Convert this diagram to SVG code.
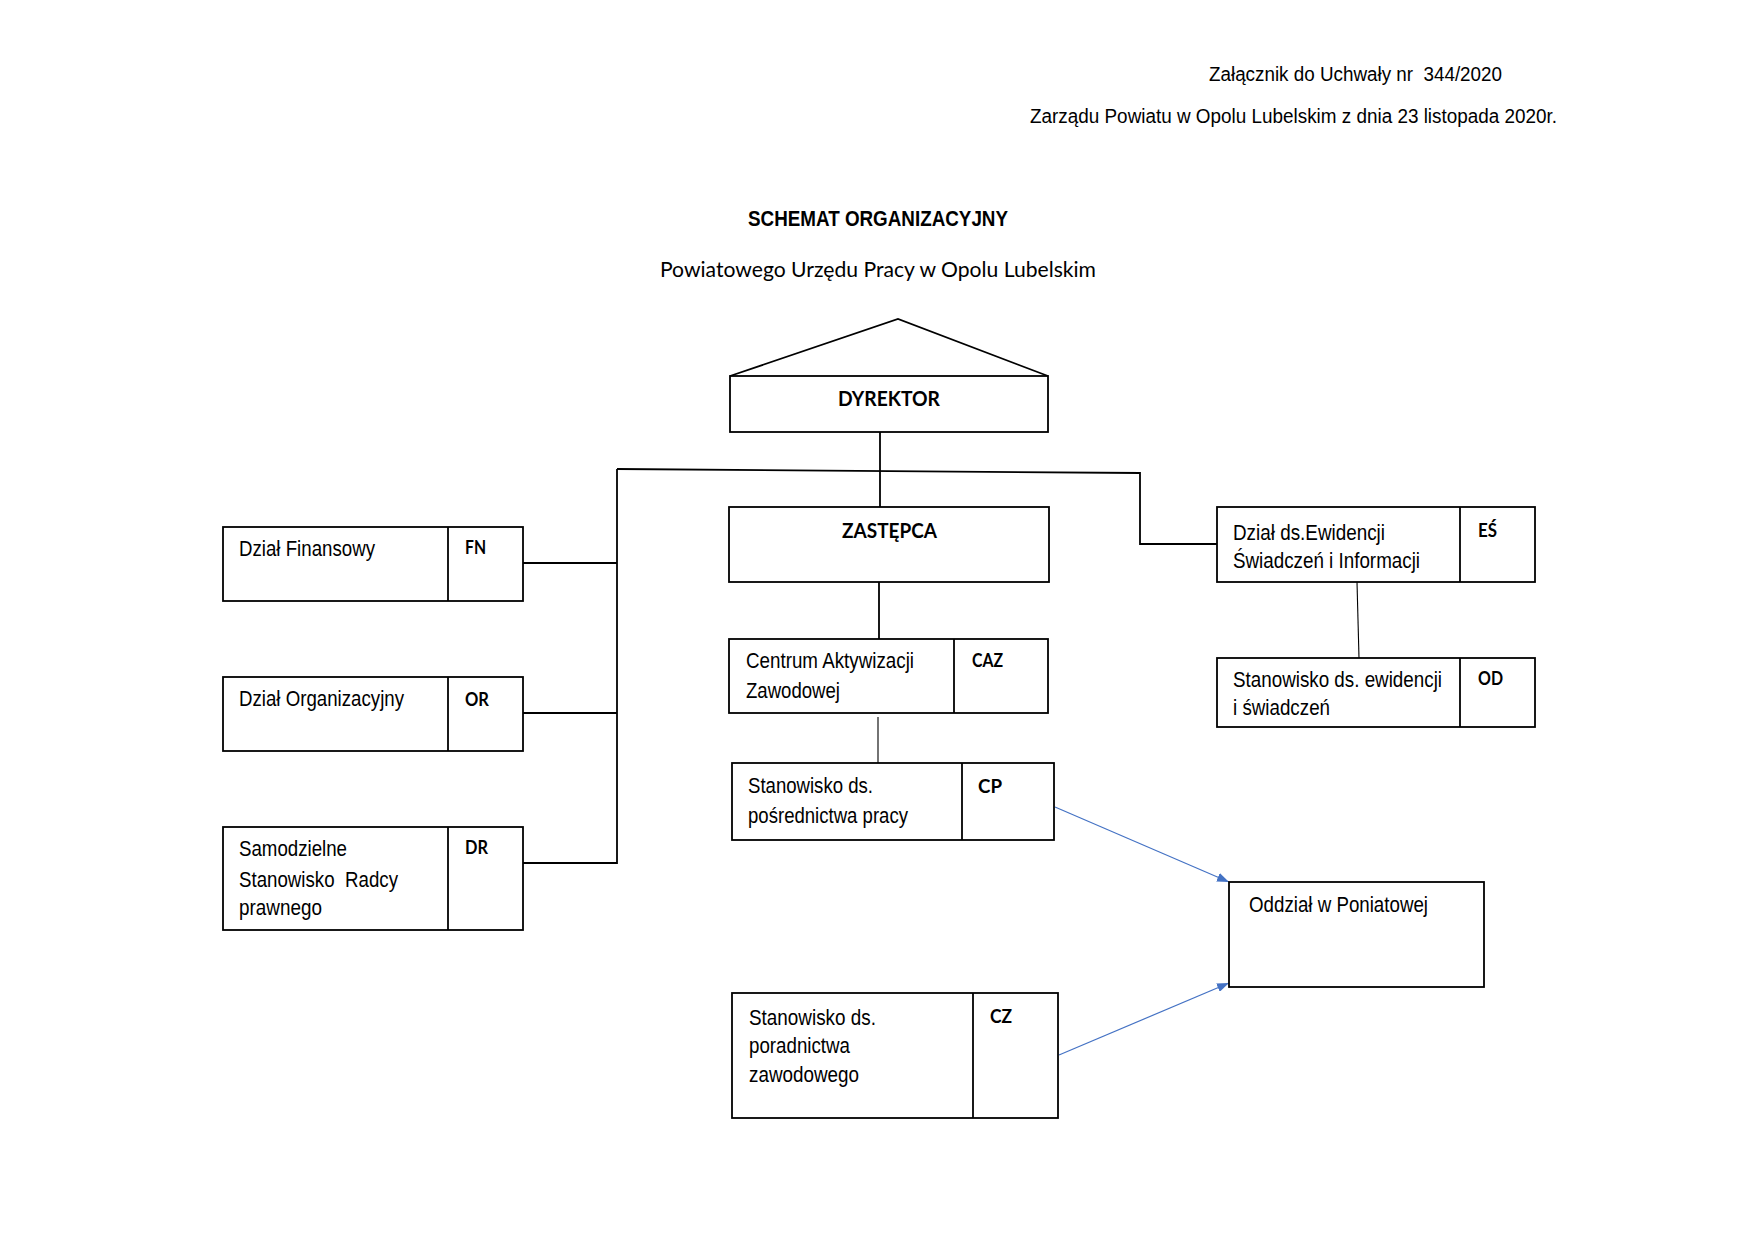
<svg xmlns="http://www.w3.org/2000/svg" width="1753" height="1240" viewBox="0 0 1753 1240">
<style>
.box{fill:#fff;stroke:#000;stroke-width:1.8}
.div{stroke:#000;stroke-width:1.8}
.ln{fill:none;stroke:#000;stroke-width:1.8}
.thin{fill:none;stroke:#000;stroke-width:1.1}
.arr{fill:none;stroke:#4472C4;stroke-width:1.2}
.lbl{font-family:"Liberation Sans",Arial,sans-serif;font-size:22px;fill:#000;white-space:pre}
.code{font-family:Lato,"Open Sans",sans-serif;font-weight:bold;font-size:18px;fill:#000}
.head{font-family:Lato,"Open Sans",sans-serif;font-weight:bold;font-size:20px;fill:#000}
.hdr{font-family:"Liberation Sans",Arial,sans-serif;font-size:20px;fill:#000;white-space:pre}
</style>
<defs>
<marker id="ah" viewBox="0 0 12 9" refX="12" refY="4.5" markerWidth="12" markerHeight="9" markerUnits="userSpaceOnUse" orient="auto">
<path d="M0,0 L12,4.5 L0,9 z" fill="#4472C4"/>
</marker>
</defs>
<rect width="1753" height="1240" fill="#fff"/>
<g id="header">
<text class="hdr" x="1209" y="81" textLength="293" lengthAdjust="spacingAndGlyphs">Załącznik do Uchwały nr  344/2020</text>
<text class="hdr" x="1030" y="123" textLength="527" lengthAdjust="spacingAndGlyphs">Zarządu Powiatu w Opolu Lubelskim z dnia 23 listopada 2020r.</text>
<text x="748" y="226" font-family="Liberation Sans,Arial,sans-serif" font-weight="bold" font-size="22" textLength="260" lengthAdjust="spacingAndGlyphs">SCHEMAT ORGANIZACYJNY</text>
<text x="660" y="277" font-family="Lato,Open Sans,sans-serif" font-size="22" textLength="436" lengthAdjust="spacingAndGlyphs">Powiatowego Urzędu Pracy w Opolu Lubelskim</text>
</g>
<g id="connectors">
<line class="ln" x1="880" y1="432" x2="880" y2="507"/>
<polyline class="ln" points="617,469 1140,473 1140,544 1217,544"/>
<line class="ln" x1="617" y1="469" x2="617" y2="864"/>
<line class="ln" x1="523" y1="563" x2="617" y2="563"/>
<line class="ln" x1="523" y1="713" x2="617" y2="713"/>
<line class="ln" x1="523" y1="863" x2="617" y2="863"/>
<line class="ln" x1="879" y1="582" x2="879" y2="639"/>
<line class="thin" x1="878" y1="717" x2="878" y2="763"/>
<line class="thin" x1="1357" y1="582" x2="1359" y2="658"/>
<line class="arr" x1="1055" y1="807" x2="1229" y2="882" marker-end="url(#ah)"/>
<line class="arr" x1="1059" y1="1055" x2="1229" y2="983" marker-end="url(#ah)"/>
</g>
<g id="dyrektor">
<polyline class="ln" points="730,376 898,319 1048,376"/>
<rect class="box" x="730" y="376" width="318" height="56"/>
<text class="head" x="838" y="406" textLength="102" lengthAdjust="spacingAndGlyphs">DYREKTOR</text>
</g>
<g id="zastepca">
<rect class="box" x="729" y="507" width="320" height="75"/>
<text class="head" x="842" y="538" textLength="95" lengthAdjust="spacingAndGlyphs">ZASTĘPCA</text>
</g>
<g id="fn">
<rect class="box" x="223" y="527" width="300" height="74"/>
<line class="div" x1="448" y1="527" x2="448" y2="601"/>
<text class="lbl" x="239" y="556" textLength="136" lengthAdjust="spacingAndGlyphs">Dział Finansowy</text>
<text class="code" x="465" y="554" textLength="21" lengthAdjust="spacingAndGlyphs">FN</text>
</g>
<g id="or">
<rect class="box" x="223" y="677" width="300" height="74"/>
<line class="div" x1="448" y1="677" x2="448" y2="751"/>
<text class="lbl" x="239" y="706" textLength="165" lengthAdjust="spacingAndGlyphs">Dział Organizacyjny</text>
<text class="code" x="465" y="706" textLength="24" lengthAdjust="spacingAndGlyphs">OR</text>
</g>
<g id="dr">
<rect class="box" x="223" y="827" width="300" height="103"/>
<line class="div" x1="448" y1="827" x2="448" y2="930"/>
<text class="lbl" x="239" y="856" textLength="108" lengthAdjust="spacingAndGlyphs">Samodzielne</text>
<text class="lbl" x="239" y="887" textLength="159" lengthAdjust="spacingAndGlyphs">Stanowisko  Radcy</text>
<text class="lbl" x="239" y="915" textLength="83" lengthAdjust="spacingAndGlyphs">prawnego</text>
<text class="code" x="465" y="854" textLength="23" lengthAdjust="spacingAndGlyphs">DR</text>
</g>
<g id="caz">
<rect class="box" x="729" y="639" width="319" height="74"/>
<line class="div" x1="954" y1="639" x2="954" y2="713"/>
<text class="lbl" x="746" y="668" textLength="168" lengthAdjust="spacingAndGlyphs">Centrum Aktywizacji</text>
<text class="lbl" x="746" y="698" textLength="94" lengthAdjust="spacingAndGlyphs">Zawodowej</text>
<text class="code" x="972" y="667" textLength="31" lengthAdjust="spacingAndGlyphs">CAZ</text>
</g>
<g id="cp">
<rect class="box" x="732" y="763" width="322" height="77"/>
<line class="div" x1="962" y1="763" x2="962" y2="840"/>
<text class="lbl" x="748" y="793" textLength="125" lengthAdjust="spacingAndGlyphs">Stanowisko ds.</text>
<text class="lbl" x="748" y="823" textLength="160" lengthAdjust="spacingAndGlyphs">pośrednictwa pracy</text>
<text class="code" x="978" y="793" textLength="24" lengthAdjust="spacingAndGlyphs">CP</text>
</g>
<g id="es">
<rect class="box" x="1217" y="507" width="318" height="75"/>
<line class="div" x1="1460" y1="507" x2="1460" y2="582"/>
<text class="lbl" x="1233" y="540" textLength="152" lengthAdjust="spacingAndGlyphs">Dział ds.Ewidencji</text>
<text class="lbl" x="1233" y="568" textLength="187" lengthAdjust="spacingAndGlyphs">Świadczeń i Informacji</text>
<text class="code" x="1478" y="537" textLength="19" lengthAdjust="spacingAndGlyphs">EŚ</text>
</g>
<g id="od">
<rect class="box" x="1217" y="658" width="318" height="69"/>
<line class="div" x1="1460" y1="658" x2="1460" y2="727"/>
<text class="lbl" x="1233" y="687" textLength="209" lengthAdjust="spacingAndGlyphs">Stanowisko ds. ewidencji</text>
<text class="lbl" x="1233" y="715" textLength="97" lengthAdjust="spacingAndGlyphs">i świadczeń</text>
<text class="code" x="1478" y="685" textLength="25" lengthAdjust="spacingAndGlyphs">OD</text>
</g>
<g id="oddzial">
<rect class="box" x="1229" y="882" width="255" height="105"/>
<text class="lbl" x="1249" y="912" textLength="179" lengthAdjust="spacingAndGlyphs">Oddział w Poniatowej</text>
</g>
<g id="cz">
<rect class="box" x="732" y="993" width="326" height="125"/>
<line class="div" x1="973" y1="993" x2="973" y2="1118"/>
<text class="lbl" x="749" y="1025" textLength="127" lengthAdjust="spacingAndGlyphs">Stanowisko ds.</text>
<text class="lbl" x="749" y="1053" textLength="101" lengthAdjust="spacingAndGlyphs">poradnictwa</text>
<text class="lbl" x="749" y="1082" textLength="110" lengthAdjust="spacingAndGlyphs">zawodowego</text>
<text class="code" x="990" y="1023" textLength="22" lengthAdjust="spacingAndGlyphs">CZ</text>
</g>
</svg>
